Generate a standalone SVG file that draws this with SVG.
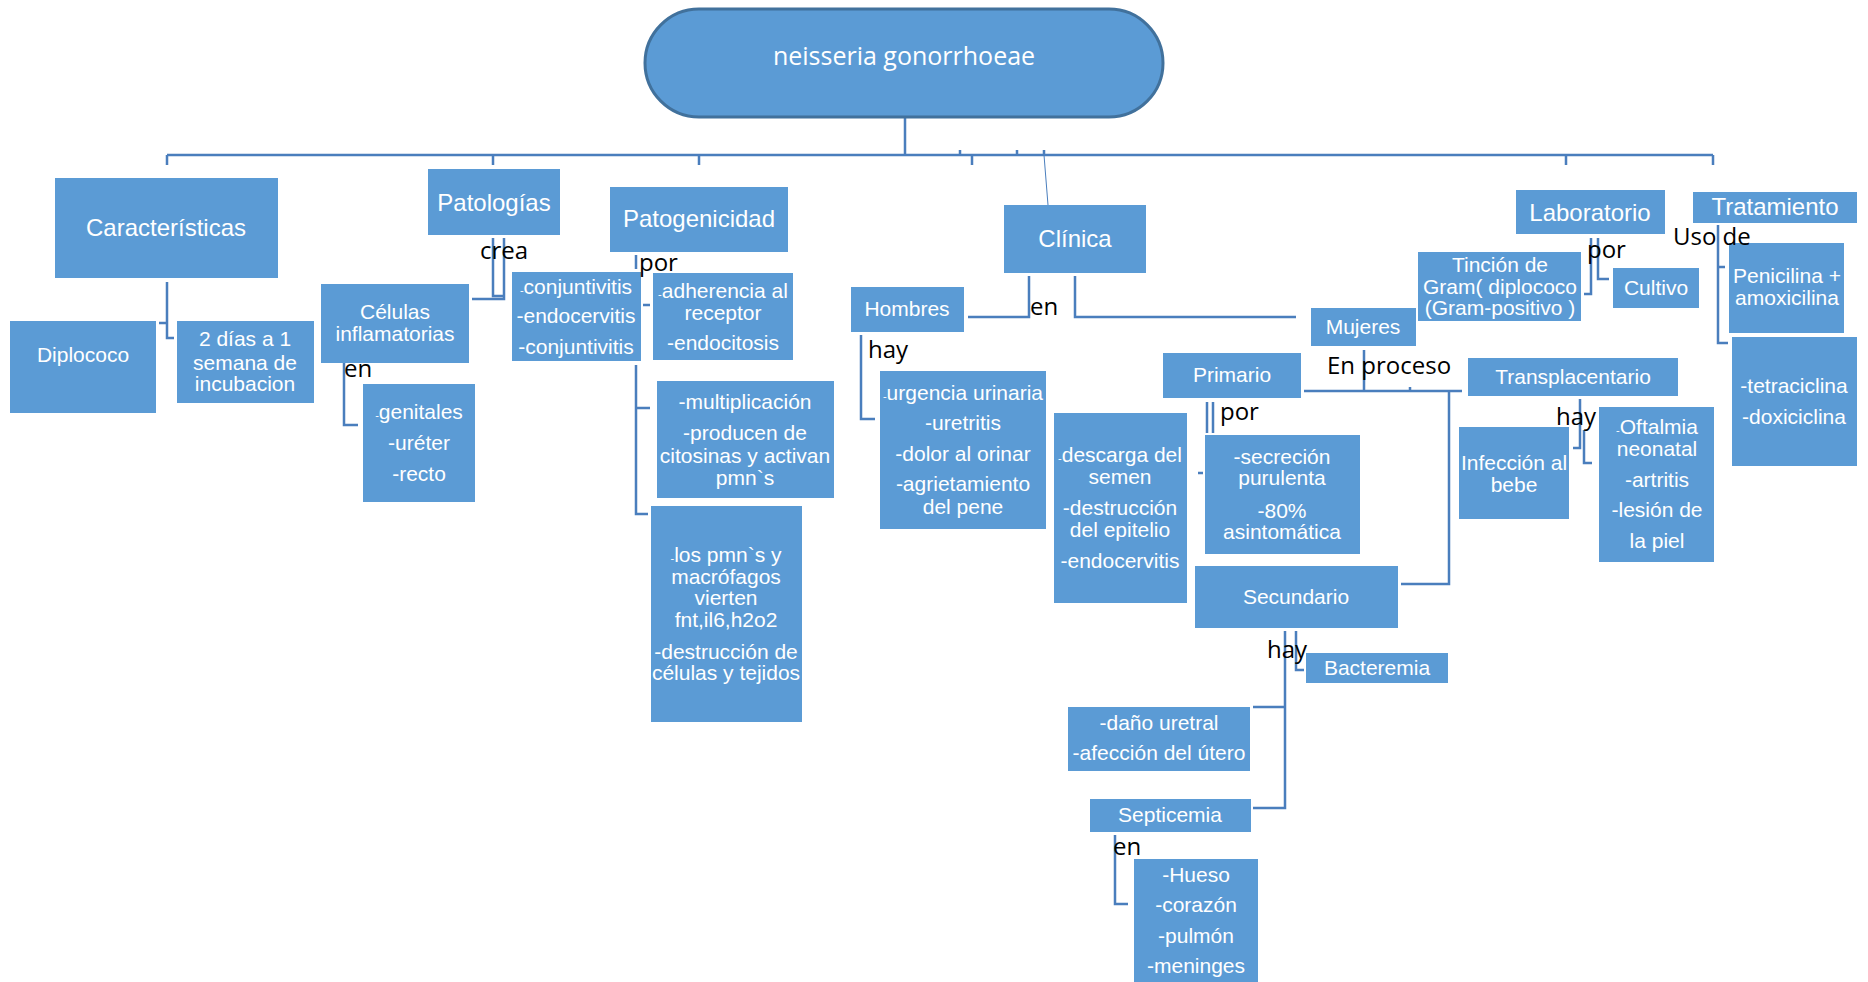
<svg xmlns="http://www.w3.org/2000/svg" width="1868" height="982" viewBox="0 0 1868 982">
<style>
.box{fill:#5B9BD5}
.t{font-family:"Liberation Sans",Arial,sans-serif;font-size:21px;fill:#fff;text-anchor:middle}
.h{font-size:24px}
.sd{font-size:11px}
.lbl{font-family:"Open Sans","Liberation Sans",sans-serif;font-size:24px;fill:#000}
.c{fill:none;stroke:#4A7EBD;stroke-width:2.5}
.thin{fill:none;stroke:#4A7EBD;stroke-width:1}
</style>
<rect width="1868" height="982" fill="#fff"/>
<g id="connectors">
<path class="c" d="M905 117V155M167 155H1713M167 155V165M493 155V165M699 155V165M972 155V165M1566 155V165M1713 155V165M960 150V155M1017 150V155M1044 150V155"/>
<path class="thin" d="M1044 155L1048 205"/>
<path class="c" d="M167 282V338H174M167 323H159"/>
<path class="c" d="M493 238V296H504M504 238V299H472"/>
<path class="c" d="M344 363V425H358"/>
<path class="c" d="M643 305H650M636 255V269M636 365V514H648M636 408H650"/>
<path class="c" d="M1029 276V317H968M1075 276V317H1296"/>
<path class="c" d="M861 335V419H875"/>
<path class="c" d="M1364 350V391M1304 391H1462M1410 387V391M1449 391V584H1401"/>
<path class="c" d="M1207 402V433M1213 402V433M1198 473H1203"/>
<path class="c" d="M1296 631V670H1304M1285 631V808H1253M1285 707H1253"/>
<path class="c" d="M1115 835V904H1128"/>
<path class="c" d="M1580 399V448H1573M1584 430V463H1592"/>
<path class="c" d="M1591 238V294H1584M1598 238V279H1609"/>
<path class="c" d="M1718 225V343H1728M1718 267H1725"/>
</g>
<g id="root">
<rect x="645" y="9" width="518" height="108" rx="54" fill="#5B9BD5" stroke="#41719C" stroke-width="3"/>
<text x="904" y="65" font-family="'Open Sans','Liberation Sans',sans-serif" font-size="25" fill="#fff" text-anchor="middle">neisseria gonorrhoeae</text>
</g>
<g id="caracteristicas"><rect class="box" x="55" y="178" width="223" height="100"/><text class="t h" x="166" y="236">Características</text></g>
<g id="diplococo"><rect class="box" x="10" y="321" width="146" height="92"/><text class="t" x="83" y="362">Diplococo</text></g>
<g id="incubacion"><rect class="box" x="177" y="321" width="137" height="82"/><text class="t"><tspan x="245" y="346">2 días a 1</tspan><tspan x="245" y="370">semana de</tspan><tspan x="245" y="391">incubacion</tspan></text></g>
<g id="patologias"><rect class="box" x="428" y="169" width="132" height="66"/><text class="t h" x="494" y="211">Patologías</text></g>
<g id="celulas"><rect class="box" x="321" y="284" width="148" height="79"/><text class="t"><tspan x="395" y="319">Células</tspan><tspan x="395" y="341">inflamatorias</tspan></text></g>
<g id="genitales"><rect class="box" x="363" y="384" width="112" height="118"/><text class="t"><tspan x="419" y="419"><tspan class="sd">-</tspan>genitales</tspan><tspan x="419" y="450">-uréter</tspan><tspan x="419" y="481">-recto</tspan></text></g>
<g id="conjuntivitis"><rect class="box" x="512" y="272" width="129" height="89"/><text class="t"><tspan x="576" y="294"><tspan class="sd">-</tspan>conjuntivitis</tspan><tspan x="576" y="323">-endocervitis</tspan><tspan x="576" y="354">-conjuntivitis</tspan></text></g>
<g id="patogenicidad"><rect class="box" x="610" y="187" width="178" height="65"/><text class="t h" x="699" y="227">Patogenicidad</text></g>
<g id="adherencia"><rect class="box" x="653" y="273" width="140" height="87"/><text class="t"><tspan x="723" y="298"><tspan class="sd">-</tspan>adherencia al</tspan><tspan x="723" y="320">receptor</tspan><tspan x="723" y="350">-endocitosis</tspan></text></g>
<g id="multiplicacion"><rect class="box" x="657" y="381" width="177" height="117"/><text class="t"><tspan x="745" y="409">-multiplicación</tspan><tspan x="745" y="440">-producen de</tspan><tspan x="745" y="463">citosinas y activan</tspan><tspan x="745" y="485">pmn`s</tspan></text></g>
<g id="pmns"><rect class="box" x="651" y="506" width="151" height="216"/><text class="t"><tspan x="726" y="562"><tspan class="sd">-</tspan>los pmn`s y</tspan><tspan x="726" y="584">macrófagos</tspan><tspan x="726" y="605">vierten</tspan><tspan x="726" y="627">fnt,il6,h2o2</tspan><tspan x="726" y="659">-destrucción de</tspan><tspan x="726" y="680">células y tejidos</tspan></text></g>
<g id="clinica"><rect class="box" x="1004" y="205" width="142" height="68"/><text class="t h" x="1075" y="247">Clínica</text></g>
<g id="hombres"><rect class="box" x="851" y="287" width="113" height="45"/><text class="t" x="907" y="316">Hombres</text></g>
<g id="urgencia"><rect class="box" x="880" y="371" width="166" height="158"/><text class="t"><tspan x="963" y="400"><tspan class="sd">-</tspan>urgencia urinaria</tspan><tspan x="963" y="430">-uretritis</tspan><tspan x="963" y="461">-dolor al orinar</tspan><tspan x="963" y="491">-agrietamiento</tspan><tspan x="963" y="514">del pene</tspan></text></g>
<g id="mujeres"><rect class="box" x="1311" y="308" width="105" height="38"/><text class="t" x="1363" y="334">Mujeres</text></g>
<g id="primario"><rect class="box" x="1163" y="353" width="138" height="45"/><text class="t" x="1232" y="382">Primario</text></g>
<g id="descarga"><rect class="box" x="1054" y="413" width="133" height="190"/><text class="t"><tspan x="1120" y="462"><tspan class="sd">-</tspan>descarga del</tspan><tspan x="1120" y="484">semen</tspan><tspan x="1120" y="515">-destrucción</tspan><tspan x="1120" y="537">del epitelio</tspan><tspan x="1120" y="568">-endocervitis</tspan></text></g>
<g id="secrecion"><rect class="box" x="1205" y="435" width="155" height="119"/><text class="t"><tspan x="1282" y="464">-secreción</tspan><tspan x="1282" y="485">purulenta</tspan><tspan x="1282" y="518">-80%</tspan><tspan x="1282" y="539">asintomática</tspan></text></g>
<g id="secundario"><rect class="box" x="1195" y="566" width="203" height="62"/><text class="t" x="1296" y="604">Secundario</text></g>
<g id="bacteremia"><rect class="box" x="1306" y="653" width="142" height="30"/><text class="t" x="1377" y="675">Bacteremia</text></g>
<g id="dano"><rect class="box" x="1068" y="707" width="182" height="64"/><text class="t"><tspan x="1159" y="730">-daño uretral</tspan><tspan x="1159" y="760">-afección del útero</tspan></text></g>
<g id="septicemia"><rect class="box" x="1090" y="799" width="161" height="33"/><text class="t" x="1170" y="822">Septicemia</text></g>
<g id="organos"><rect class="box" x="1134" y="859" width="124" height="123"/><text class="t"><tspan x="1196" y="882">-Hueso</tspan><tspan x="1196" y="912">-corazón</tspan><tspan x="1196" y="943">-pulmón</tspan><tspan x="1196" y="973">-meninges</tspan></text></g>
<g id="transplacentario"><rect class="box" x="1468" y="358" width="210" height="38"/><text class="t" x="1573" y="384">Transplacentario</text></g>
<g id="infeccion"><rect class="box" x="1459" y="427" width="110" height="92"/><text class="t"><tspan x="1514" y="470">Infección al</tspan><tspan x="1514" y="492">bebe</tspan></text></g>
<g id="oftalmia"><rect class="box" x="1599" y="407" width="115" height="155"/><text class="t"><tspan x="1657" y="434"><tspan class="sd">-</tspan>Oftalmia</tspan><tspan x="1657" y="456">neonatal</tspan><tspan x="1657" y="487">-artritis</tspan><tspan x="1657" y="517">-lesión de</tspan><tspan x="1657" y="548">la piel</tspan></text></g>
<g id="laboratorio"><rect class="box" x="1516" y="190" width="149" height="44"/><text class="t h" x="1590" y="221">Laboratorio</text></g>
<g id="tincion"><rect class="box" x="1418" y="252" width="163" height="69"/><text class="t"><tspan x="1500" y="272">Tinción de</tspan><tspan x="1500" y="294">Gram( diplococo</tspan><tspan x="1500" y="315">(Gram-positivo )</tspan></text></g>
<g id="cultivo"><rect class="box" x="1613" y="268" width="86" height="40"/><text class="t" x="1656" y="295">Cultivo</text></g>
<g id="tratamiento"><rect class="box" x="1693" y="192" width="164" height="31"/><text class="t h" x="1775" y="215">Tratamiento</text></g>
<g id="penicilina"><rect class="box" x="1729" y="243" width="115" height="90"/><text class="t"><tspan x="1787" y="283">Penicilina +</tspan><tspan x="1787" y="305">amoxicilina</tspan></text></g>
<g id="tetraciclina"><rect class="box" x="1732" y="337" width="125" height="129"/><text class="t"><tspan x="1794" y="393">-tetraciclina</tspan><tspan x="1794" y="424">-doxiciclina</tspan></text></g>
<g id="labels">
<text class="lbl" x="480" y="259">crea</text>
<text class="lbl" x="639" y="271">por</text>
<text class="lbl" x="344" y="377">en</text>
<text class="lbl" x="1030" y="315">en</text>
<text class="lbl" x="868" y="358">hay</text>
<text class="lbl" x="1327" y="374">En proceso</text>
<text class="lbl" x="1220" y="420">por</text>
<text class="lbl" x="1267" y="658">hay</text>
<text class="lbl" x="1113" y="855">en</text>
<text class="lbl" x="1556" y="425">hay</text>
<text class="lbl" x="1587" y="258">por</text>
<text class="lbl" x="1673" y="245">Uso de</text>
</g>
</svg>
